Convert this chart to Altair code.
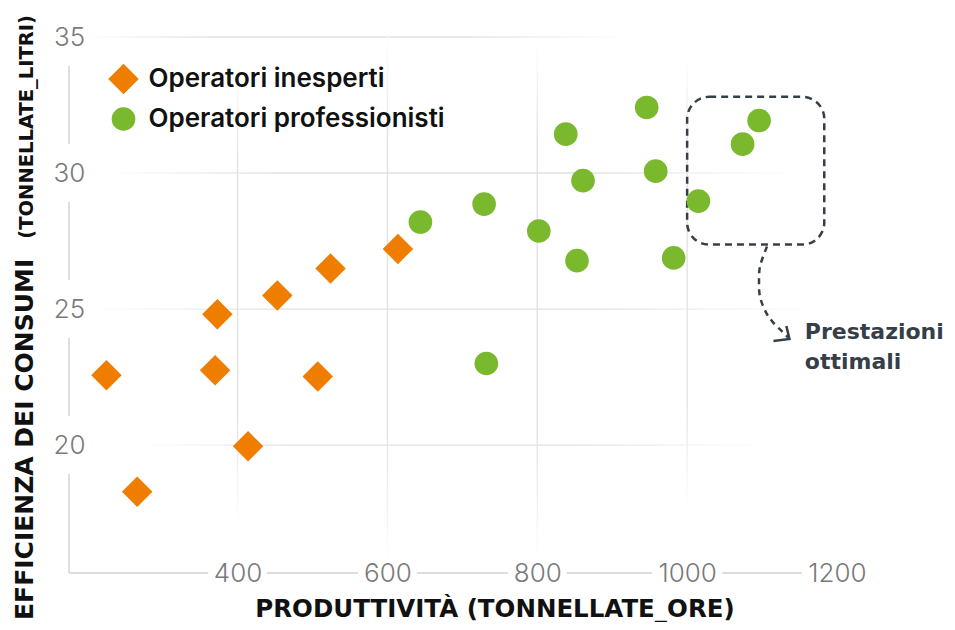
import altair as alt
import pandas as pd

# ---------------- data ----------------
groups = ["Operatori inesperti", "Operatori professionisti"]
ines_x = [225, 266, 373, 370, 414, 453, 507, 524, 614]
ines_y = [22.57, 18.29, 24.81, 22.75, 19.96, 25.50, 22.52, 26.49, 27.21]
prof_x = [644, 729, 732, 802, 838, 853, 861, 946, 958, 982, 1015, 1074, 1096]
prof_y = [28.20, 28.86, 23.00, 27.87, 31.43, 26.78, 29.72, 32.41, 30.07, 26.88, 28.97, 31.06, 31.93]

x_ticks = [400, 600, 800, 1000, 1200]
y_ticks = [20, 25, 30, 35]
x_domain = [175, 1200]
y_domain = [15.3, 35]

# faded grid lines (extent of each line)
h_grid_y = [20, 25, 30, 35]
h_grid_from = [260, 190, 220, 190]
h_grid_to = [1110, 1190, 1150, 920]
v_grid_x = [400, 600, 800, 1000]
v_grid_from = [17.0, 15.6, 15.6, 17.6]
v_grid_to = [33.8, 35.0, 35.0, 34.2]

# annotation
box_x = [1000, 1183]
box_y = [27.37, 32.8]
arrow_x = [1106.6, 1097.2, 1095.9, 1097.2, 1105.2, 1114.6, 1126.6, 1134.6]
arrow_y = [27.30, 26.56, 26.01, 25.46, 24.88, 24.51, 24.18, 23.96]
arrow_head = [1136.5, 23.90]
note_lines = ["Prestazioni", "ottimali"]
note_x = 1157
note_y = [23.89, 22.79]

x_title = "PRODUTTIVITÀ (TONNELLATE_ORE)"
y_title_main = "EFFICIENZA DEI CONSUMI"
y_title_sub = "(TONNELLATE_LITRI)"

ORANGE = "#EF7D00"
GREEN = "#7AB92D"
DARK = "#363f48"
FONT = "Inter"
TFONT = "DejaVu Sans"

# ---------------- tables ----------------
pts = pd.DataFrame({
    "x": ines_x + prof_x,
    "y": ines_y + prof_y,
    "group": [groups[0]] * len(ines_x) + [groups[1]] * len(prof_x),
})
hgrid = pd.DataFrame({"x": h_grid_from, "x2": h_grid_to, "y": h_grid_y})
vgrid = pd.DataFrame({"x": v_grid_x, "y": v_grid_from, "y2": v_grid_to})

x_axis = alt.Axis(values=x_ticks, format="d", grid=False, domain=False, ticks=False, tickSize=0,
                  labelPadding=0, labelBaseline="middle", labelFlush=False,
                  labelOverlap=False, labelFont=FONT, labelFontSize=26,
                  labelFontWeight=300, labelColor="#7a7a7a", title=None, zindex=1)
y_axis = alt.Axis(values=y_ticks, format="d", grid=False, domain=False, ticks=False, tickSize=0,
                  labelPadding=0, labelAlign="center", labelBaseline="middle",
                  labelFlush=False, labelOverlap=False, labelFont=FONT, labelFontSize=26,
                  labelFontWeight=300, labelColor="#7a7a7a", title=None, zindex=1)

X = alt.X("x:Q", scale=alt.Scale(domain=x_domain, nice=False, zero=False), axis=x_axis)
Y = alt.Y("y:Q", scale=alt.Scale(domain=y_domain, nice=False, zero=False), axis=y_axis)

GRID = "#e2e2e2"
grad_h = {"gradient": "linear", "x1": 0, "y1": 0, "x2": 1, "y2": 0,
          "stops": [{"offset": 0, "color": "#ffffff"}, {"offset": 0.25, "color": GRID},
                    {"offset": 0.7, "color": GRID}, {"offset": 1, "color": "#ffffff"}]}
grad_v = {"gradient": "linear", "x1": 0, "y1": 0, "x2": 0, "y2": 1,
          "stops": [{"offset": 0, "color": "#ffffff"}, {"offset": 0.2, "color": GRID},
                    {"offset": 0.75, "color": GRID}, {"offset": 1, "color": "#ffffff"}]}

hgrid_layer = alt.Chart(hgrid).mark_rect(fill=grad_h, yOffset=-0.7, y2Offset=0.7).encode(
    x=X, x2=alt.X2("x2:Q"), y=Y, y2=alt.Y2("y:Q"))
vgrid_layer = alt.Chart(vgrid).mark_rect(fill=grad_v, xOffset=-0.7, x2Offset=0.7).encode(
    x=X, x2=alt.X2("x:Q"), y=Y, y2=alt.Y2("y2:Q"))

# axis lines with gaps under the labels
xline = alt.Chart(pd.DataFrame({"x": [x_domain[0]], "x2": [x_domain[1]], "y": [y_domain[0]]})) \
    .mark_rule(color="#d2d2d2", strokeWidth=1.4).encode(x=X, x2=alt.X2("x2:Q"), y=Y)
yline = alt.Chart(pd.DataFrame({"x": [x_domain[0]], "y": [y_domain[0]], "y2": [y_domain[1]]})) \
    .mark_rule(color="#d2d2d2", strokeWidth=1.4).encode(x=X, y=Y, y2=alt.Y2("y2:Q"))

xcov3 = alt.Chart(pd.DataFrame({"x": [t for t in x_ticks if t < 1000], "y": y_domain[0]})) \
    .mark_point(shape="M-1,-0.3H1V0.3H-1Z", size=3481, filled=True, color="white",
                opacity=1, strokeWidth=0).encode(x=X, y=Y)
xcov4 = alt.Chart(pd.DataFrame({"x": [t for t in x_ticks if t >= 1000], "y": y_domain[0]})) \
    .mark_point(shape="M-1,-0.3H1V0.3H-1Z", size=4900, filled=True, color="white",
                opacity=1, strokeWidth=0).encode(x=X, y=Y)
ycov = alt.Chart(pd.DataFrame({"x": x_domain[0], "y": y_ticks})) \
    .mark_point(shape="M-0.3,-1H0.3V1H-0.3Z", size=3364, filled=True, color="white",
                opacity=1, strokeWidth=0).encode(x=X, y=Y)

# annotation
box = alt.Chart(pd.DataFrame({"x": [box_x[0]], "x2": [box_x[1]], "y": [box_y[0]], "y2": [box_y[1]]})) \
    .mark_rect(cornerRadius=22, fillOpacity=0, stroke=DARK, strokeWidth=2.5, strokeDash=[7, 5]) \
    .encode(x=X, x2=alt.X2("x2:Q"), y=Y, y2=alt.Y2("y2:Q"))
arrow = alt.Chart(pd.DataFrame({"x": arrow_x, "y": arrow_y, "i": list(range(len(arrow_x)))})) \
    .mark_line(interpolate="catmull-rom", color=DARK, strokeWidth=2.5, strokeDash=[6, 5]) \
    .encode(x=X, y=Y, order=alt.Order("i:Q"))
head = alt.Chart(pd.DataFrame({"x": [arrow_head[0]], "y": [arrow_head[1]]})) \
    .mark_point(shape="M-1,0.12L0,0L-0.19,-0.81", size=1024, filled=False, stroke=DARK,
                strokeWidth=2.5, opacity=1).encode(x=X, y=Y)
note = alt.Chart(pd.DataFrame({"x": note_x, "y": note_y, "t": note_lines})) \
    .mark_text(align="left", baseline="alphabetic", font=TFONT, fontSize=22, fontWeight="bold",
               color=DARK).encode(x=X, y=Y, text="t:N")

points = alt.Chart(pts).mark_point(filled=True, opacity=1, strokeWidth=0).encode(
    x=X, y=Y,
    color=alt.Color("group:N", scale=alt.Scale(domain=groups, range=[ORANGE, GREEN]),
                    legend=alt.Legend(orient="none", legendX=38.5, legendY=26, title=None,
                                      labelFont=FONT, labelFontSize=26, labelFontWeight=600,
                                      labelColor="#111111", labelOffset=9, rowPadding=6,
                                      labelLimit=600, padding=0, symbolOpacity=1)),
    shape=alt.Shape("group:N", scale=alt.Scale(domain=groups, range=["diamond", "circle"])),
    size=alt.Size("group:N", scale=alt.Scale(domain=groups, range=[930, 560])),
)

# titles
xt = alt.Chart(pd.DataFrame({"t": [x_title]})).mark_text(
    align="center", baseline="alphabetic", font=TFONT, fontSize=24.5, fontWeight="bold",
    color="#111111").encode(text="t:N", x=alt.value(426), y=alt.value(580))
yt1 = alt.Chart(pd.DataFrame({"t": [y_title_main]})).mark_text(
    angle=270, align="left", baseline="alphabetic", font=TFONT, fontSize=25, fontWeight="bold",
    color="#111111").encode(text="t:N", x=alt.value(-36), y=alt.value(583))
yt2 = alt.Chart(pd.DataFrame({"t": [y_title_sub]})).mark_text(
    angle=270, align="right", baseline="alphabetic", font=TFONT, fontSize=19.5, fontWeight="bold",
    color="#111111").encode(text="t:N", x=alt.value(-36), y=alt.value(-22))

chart = alt.layer(
    hgrid_layer, vgrid_layer, xline, yline, xcov3, xcov4, ycov,
    box, arrow, head, points, note, xt, yt1, yt2
).properties(
    width=768, height=536,
    padding={"left": 61, "top": 29, "right": 110, "bottom": 49},
    autosize=alt.AutoSizeParams(type="none"),
    background="white",
).configure_view(stroke=None)

chart.save("out.html", embed_options={"renderer": "svg", "actions": False})
